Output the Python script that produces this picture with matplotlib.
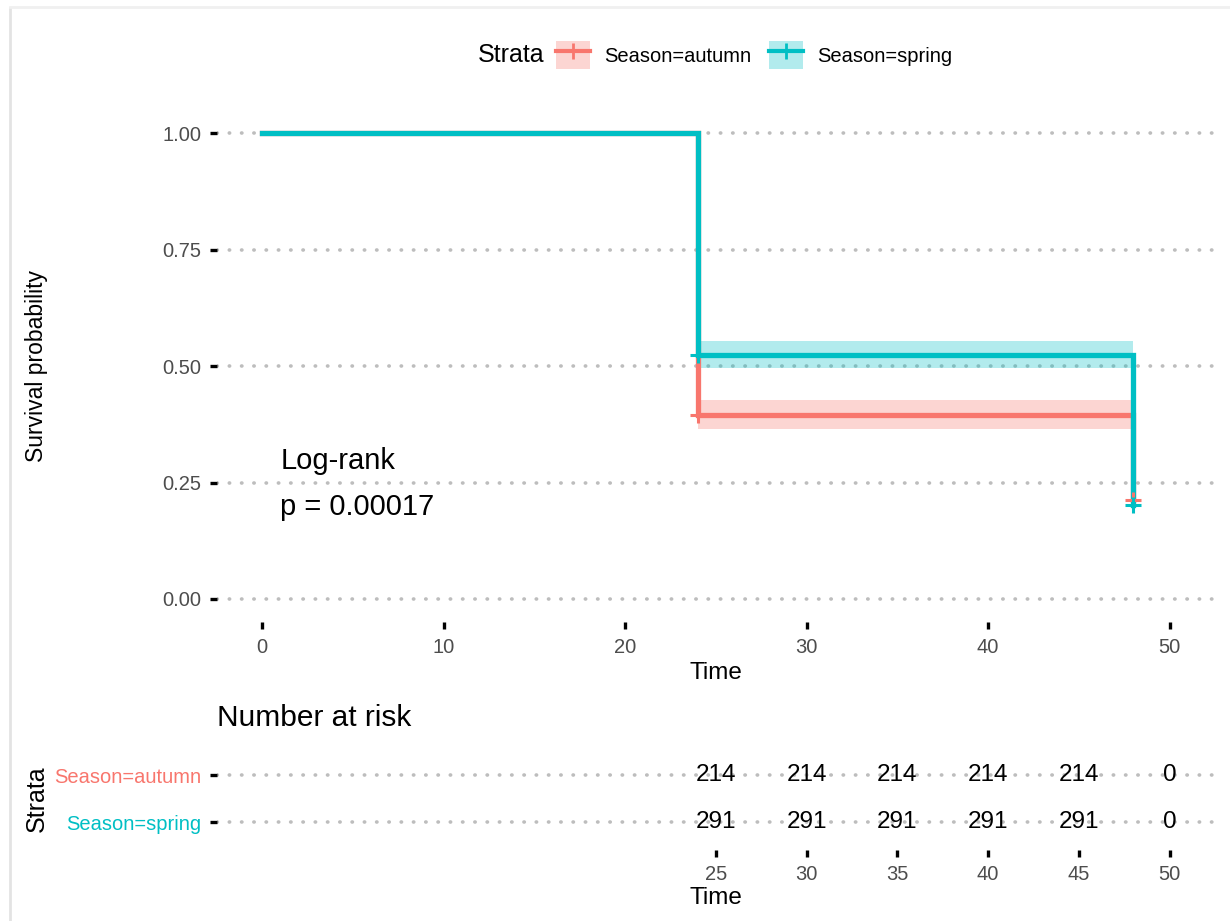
import matplotlib
matplotlib.use("Agg")
import matplotlib.pyplot as plt
from matplotlib.lines import Line2D
from matplotlib.patches import Patch

plt.rcParams['font.family'] = ['Liberation Sans', 'DejaVu Sans']

# Kaplan-Meier estimates by stratum
strata = ["Season=autumn", "Season=spring"]
colors = ["#F8766D", "#00BFC4"]
km_time = [0, 24, 48]
surv_autumn = [1.0, 0.395, 0.212]
surv_spring = [1.0, 0.524, 0.202]

# 95% confidence band over the interval [24, 48)
band_time = [24, 48]
lower_autumn = [0.365, 0.365]
upper_autumn = [0.427, 0.427]
lower_spring = [0.495, 0.495]
upper_spring = [0.554, 0.554]

# censored observations
censor_time = [24, 48]
censor_autumn = [0.395, 0.212]
censor_spring = [0.524, 0.202]

# Risk table
risk_times = [25, 30, 35, 40, 45, 50]
risk_autumn = [214, 214, 214, 214, 214, 0]
risk_spring = [291, 291, 291, 291, 291, 0]

x_ticks = [0, 10, 20, 30, 40, 50]
y_ticks = [0.00, 0.25, 0.50, 0.75, 1.00]
y_ticklabels = ["0.00", "0.25", "0.50", "0.75", "1.00"]
pval_lines = ["Log-rank", "p = 0.00017"]

W, H = 1230, 921
fig = plt.figure(figsize=(W / 100, H / 100), dpi=100)

grid_kw = dict(color="#BDBDBD", linestyle=(0, (0.1, 3.3)), linewidth=2.6,
               dash_capstyle="round")
tick_grey = "#4D4D4D"

ax = fig.add_axes([216.6 / W, 1 - 622.3 / H, (1215 - 216.6) / W, (622.3 - 109.7) / H])
ax.set_xlim(-2.5, 52.5)
ax.set_ylim(-0.05, 1.05)
for s in ax.spines.values():
    s.set_visible(False)
ax.set_yticks(y_ticks)
ax.set_yticklabels(y_ticklabels)
ax.set_xticks(x_ticks)
ax.tick_params(axis="both", length=5, width=2.4, color="black",
               labelsize=14.5, labelcolor=tick_grey, pad=6)
ax.yaxis.grid(True, **grid_kw)
ax.xaxis.grid(False)
ax.set_axisbelow(True)

series = [
    (surv_autumn, lower_autumn, upper_autumn, censor_autumn),
    (surv_spring, lower_spring, upper_spring, censor_spring),
]
for (sv, lo, hi, cz), col in zip(series, colors):
    ax.fill_between(band_time, lo, hi, step="post",
                    color=col, alpha=0.3, linewidth=0, zorder=2)
for (sv, lo, hi, cz), col in zip(series, colors):
    ax.step(km_time, sv, where="post", color=col, linewidth=3.8, zorder=3,
            solid_joinstyle="miter")
    ax.plot(censor_time, cz, linestyle="none", marker="+", markersize=12,
            markeredgewidth=2.2, color=col, zorder=4)

ax.text(1.0, 0.296, pval_lines[0], fontsize=21, ha="left", va="center")
ax.text(1.0, 0.197, pval_lines[1], fontsize=21, ha="left", va="center")

ax.set_xlabel("Time", fontsize=17.5, labelpad=4)
fig.text(37 / W, 1 - 366 / H, "Survival probability", rotation=90,
         fontsize=16.5, ha="center", va="center")

# Legend across the top
fig.text(478 / W, 1 - 55 / H, "Strata", fontsize=18, ha="left", va="center")
handles = [(Patch(facecolor=c, alpha=0.3, edgecolor="none"),
            Line2D([], [], color=c, linewidth=3.0, marker="+",
                   markersize=11, markeredgewidth=2.0)) for c in colors]
fig.legend(handles, strata, loc="center left",
           bbox_to_anchor=(556 / W, 1 - 55 / H), ncol=2, frameon=False,
           fontsize=14.5, handlelength=1.7, handleheight=1.75,
           columnspacing=0.85, handletextpad=0.7, borderaxespad=0,
           borderpad=0)

# Number at risk table
rax = fig.add_axes([216.6 / W, 1 - 850.2 / H, (1215 - 216.6) / W, 103.4 / H])
rax.set_xlim(-2.5, 52.5)
rax.set_ylim(2.6, 0.4)
for s in rax.spines.values():
    s.set_visible(False)
rax.set_xticks(risk_times)
rax.set_yticks([1, 2])
rax.set_yticklabels(strata)
for lbl, col in zip(rax.get_yticklabels(), colors):
    lbl.set_color(col)
rax.tick_params(axis="both", length=5, width=2.4, color="black",
                labelsize=14.5, pad=6)
rax.tick_params(axis="x", labelcolor=tick_grey)
rax.yaxis.grid(True, **grid_kw)
rax.set_axisbelow(True)
for row, counts in enumerate([risk_autumn, risk_spring], start=1):
    for t, n in zip(risk_times, counts):
        rax.text(t, row, str(n), fontsize=17.5, ha="center", va="center",
                 zorder=3)
rax.set_xlabel("Time", fontsize=17.5, labelpad=2)
fig.text(37 / W, 1 - 798.5 / H, "Strata", rotation=90, fontsize=18,
         ha="center", va="center")
fig.text(217 / W, 1 - 718 / H, "Number at risk", fontsize=21.5,
         ha="left", va="center")

# soft frame edges
fig.add_artist(Line2D([10 / W, 10 / W], [0, 1 - 8 / H], color="#E3E3E3",
                      linewidth=2, transform=fig.transFigure))
fig.add_artist(Line2D([10 / W, 1], [1 - 7 / H, 1 - 7 / H], color="#F0F0F0",
                      linewidth=2, transform=fig.transFigure))

fig.savefig("out.png", dpi=100)
